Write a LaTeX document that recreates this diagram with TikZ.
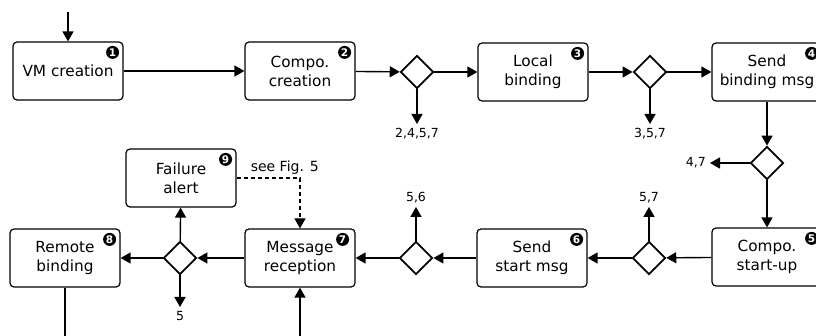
\documentclass[tikz,border=0pt]{standalone}
\usepackage{fontspec}
\setmainfont{DejaVu Sans}
\usetikzlibrary{arrows.meta,shapes.geometric}

\begin{document}
\begin{tikzpicture}[x=1pt,y=-1pt]

        \tikzstyle{stepbox}=[draw,line width=1.2pt,rounded corners=4pt,minimum width=110pt,minimum height=58pt,align=center,font=\fontsize{15.3}{19}\selectfont]
        \tikzstyle{choice}=[draw,diamond,line width=1.8pt,minimum size=33pt,inner sep=0pt]
        \tikzstyle{badge}=[circle,fill=black,text=white,inner sep=0pt,minimum size=13pt,font=\fontsize{10.5}{10.5}\selectfont\bfseries]
        \tikzstyle{outlbl}=[inner sep=4pt,font=\fontsize{12.5}{12.5}\selectfont]
        \tikzstyle{flow}=[line width=1.4pt,-{Triangle[length=10pt,width=11pt]}]

        \useasboundingbox (0,0) rectangle (816,336);
        \clip (0,0) rectangle (816,336);

        %% upper row
        \node [stepbox] (vm) at (68,71) {VM creation};
        \node [stepbox] (cc) at (300,71) {Compo.\\creation};
        \node [choice] (d1) at (417,72) {};
        \node [stepbox] (lb) at (533,72) {Local\\binding};
        \node [choice] (d2) at (650,72) {};
        \node [stepbox] (sb) at (767,72) {Send\\binding msg};

        %% right side
        \node [choice] (d3) at (767,163) {};
        \node [stepbox] (cs) at (767,257) {Compo.\\start-up};

        %% lower row
        \node [choice] (d4) at (649,258) {};
        \node [stepbox] (ss) at (532,258) {Send\\start msg};
        \node [choice] (d5) at (416,258) {};
        \node [stepbox] (mr) at (300,258) {Message\\reception};
        \node [choice] (d6) at (180,258) {};
        \node [stepbox] (rb) at (65,258) {Remote\\binding};
        \node [stepbox] (fa) at (181,178) {Failure\\alert};

        %% step numbers
        \node [badge] (n1) at ([xshift=-11pt,yshift=-11pt]vm.north east) {1};
        \node [badge] (n2) at ([xshift=-11pt,yshift=-11pt]cc.north east) {2};
        \node [badge] (n3) at ([xshift=-11pt,yshift=-11pt]lb.north east) {3};
        \node [badge] (n4) at ([xshift=-11pt,yshift=-11pt]sb.north east) {4};
        \node [badge] (n5) at ([xshift=-11pt,yshift=-11pt]cs.north east) {5};
        \node [badge] (n6) at ([xshift=-11pt,yshift=-11pt]ss.north east) {6};
        \node [badge] (n7) at ([xshift=-13pt,yshift=-11pt]mr.north east) {7};
        \node [badge] (n8) at ([xshift=-11pt,yshift=-11pt]rb.north east) {8};
        \node [badge] (n9) at ([xshift=-11pt,yshift=-11pt]fa.north east) {9};

        %% side exits
        \node [outlbl,anchor=north] (o1) at (417,124) {2,4,5,7};
        \node [outlbl,anchor=north] (o2) at (650,124) {3,5,7};
        \node [outlbl,anchor=east] (o3) at (710,163) {4,7};
        \node [outlbl,anchor=south] (o4) at (649,207) {5,7};
        \node [outlbl,anchor=south] (o5) at (416,207) {5,6};
        \node [outlbl,anchor=north] (o6) at (180,307) {5};

        \coordinate (start) at (68,12);
        \coordinate (rbout) at (65,345);
        \coordinate (mrin) at (300,345);

        \draw [flow] (start) -- (vm);
        \draw [flow] (vm) -- (cc);
        \draw [flow] (cc) -- (d1);
        \draw [flow] (d1) -- (lb);
        \draw [flow] (lb) -- (d2);
        \draw [flow] (d2) -- (sb);
        \draw [flow] (sb) -- (d3);
        \draw [flow] (d3) -- (cs);
        \draw [flow] (cs) -- (d4);
        \draw [flow] (d4) -- (ss);
        \draw [flow] (ss) -- (d5);
        \draw [flow] (d5) -- (mr);
        \draw [flow] (mr) -- (d6);
        \draw [flow] (d6) -- (rb);
        \draw [flow] (d6) -- (fa);

        \draw [flow] (d1) -- (o1);
        \draw [flow] (d2) -- (o2);
        \draw [flow] (d3) -- (o3);
        \draw [flow] (d4) -- (o4);
        \draw [flow] (d5) -- (o5);
        \draw [flow] (d6) -- (o6);

        \draw [line width=1.4pt] (rb) -- (rbout);
        \draw [flow] (mrin) -- (mr);

        \draw [flow,line width=1.2pt,dash pattern=on 4pt off 3pt] (fa.east) -| node [pos=0.38,above,inner sep=3pt,font=\fontsize{14}{14}\selectfont] (seefig) {see Fig. 5} (mr.north);

    \end{tikzpicture}
\end{document}
